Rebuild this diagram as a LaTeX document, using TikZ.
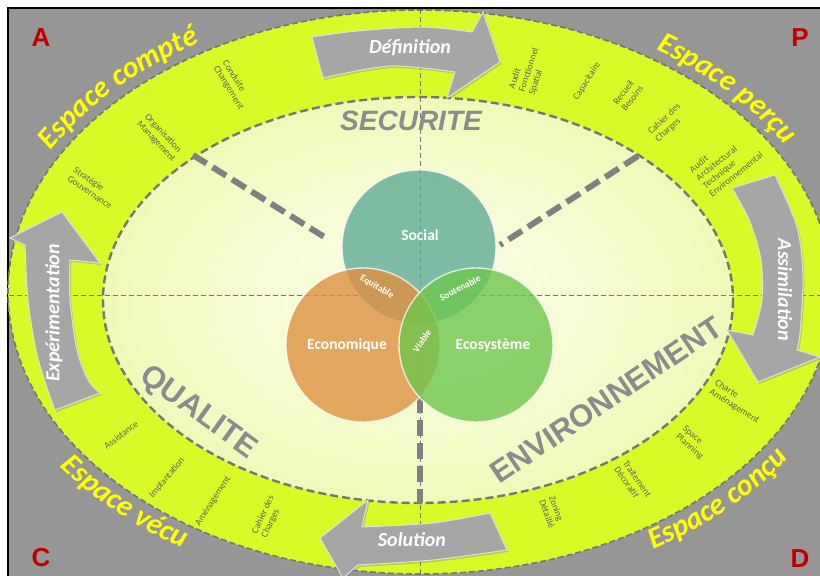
\documentclass[tikz,border=0pt]{standalone}
\usepackage{fontspec}
\setmainfont{Carlito}
\newfontfamily\arialf{Liberation Sans}
\usetikzlibrary{decorations.text,shadows}

\definecolor{ringgreen}{RGB}{217,250,38}
\definecolor{ringdash}{RGB}{118,118,118}
\definecolor{thickdash}{RGB}{128,128,128}
\definecolor{labelgray}{RGB}{96,100,80}
\definecolor{wordgray}{RGB}{140,140,140}
\definecolor{arrowgray}{RGB}{166,166,166}
\definecolor{cornerred}{RGB}{192,0,0}
\definecolor{espyellow}{RGB}{255,255,0}
\definecolor{socialc}{RGB}{96,172,150}
\definecolor{econc}{RGB}{222,145,65}
\definecolor{ecosc}{RGB}{110,198,78}
\definecolor{bgin}{RGB}{218,218,218}
\definecolor{bgout}{RGB}{150,150,150}
\definecolor{innerin}{RGB}{253,255,238}
\definecolor{innerout}{RGB}{240,249,186}

\newcommand{\espfont}{\fontsize{30}{30}\selectfont\bfseries\itshape}
\newcommand{\secfont}{\arialf\bfseries\itshape\fontsize{28}{28}\selectfont}
\newcommand{\bigfont}{\arialf\bfseries\fontsize{31}{31}\selectfont}

\tikzset{
  ringborder/.style={draw=ringdash, line width=1.6pt, dash pattern=on 6pt off 3pt},
  innerborder/.style={draw=ringdash, line width=2.4pt, dash pattern=on 8pt off 4pt},
  guide/.style={draw=ringdash, line width=0.9pt, dash pattern=on 5pt off 3pt},
  sector/.style={draw=thickdash, line width=6pt, dash pattern=on 16pt off 7pt},
  vcircle/.style={circle, minimum size=154pt, inner sep=0pt, fill opacity=.8, draw=white, draw opacity=.75, line width=1.4pt},
  circlab/.style={text=white, font=\bfseries\fontsize{15.5}{16}\selectfont},
  interlab/.style={text=white, font=\bfseries\fontsize{9.5}{10}\selectfont, inner sep=0pt},
  smalllab/.style={text=labelgray, font=\fontsize{9.5}{10.5}\selectfont, align=left, inner sep=0pt},
  arrowshape/.style={fill=arrowgray, draw=white!75!gray, line width=1pt, drop shadow={shadow xshift=1.5pt, shadow yshift=-2pt, opacity=.35}},
  arrowtext/.style={text=white, font=\bfseries\itshape\fontsize{20}{20}\selectfont},
  corner/.style={text=cornerred, font=\arialf\bfseries\fontsize{26}{26}\selectfont},
  bigword/.style={text=wordgray, inner sep=1pt},
}

\begin{document}
\begin{tikzpicture}[x=1pt,y=-1pt]
\useasboundingbox (0,0) rectangle (820,576);
\fill[white] (0,0) rectangle (820,576);
\shade[inner color=bgin, outer color=bgout] (8,8) rectangle (822,580);
\draw[black, line width=1.2pt] (8,580) -- (8,8) -- (822,8);

\coordinate (C) at (420,292);
\coordinate (IC) at (418,300);

% rings
\draw[ringborder, fill=ringgreen] (C) ellipse [x radius=412, y radius=282];
\shade[inner color=innerin, outer color=innerout] (IC) ellipse [x radius=315, y radius=203];
\draw[innerborder] (IC) ellipse [x radius=315, y radius=203];

% guide lines
\coordinate (hl) at (9,295);
\coordinate (hr) at (822,295);
\coordinate (vt) at (420,9);
\coordinate (vb) at (420,580);
\draw[guide] (hl) -- (hr);
\draw[guide] (vt) -- (vb);

% sector lines
\coordinate (s1a) at (193,155);
\coordinate (s1b) at (326,238);
\coordinate (s2a) at (638,156);
\coordinate (s2b) at (500,245);
\coordinate (s3a) at (420,397);
\coordinate (s3b) at (420,503);
\draw[sector] (s1a) -- (s1b);
\draw[sector] (s2a) -- (s2b);
\draw[sector] (s3a) -- (s3b);

% big words
\node[bigword, font=\secfont] (wsec) at (411,121) {SECURITE};
\node[bigword, font=\bigfont, rotate=-36] (wqual) at (198,413) {QUALITE};
\node[bigword, font=\bigfont, rotate=34] (wenv) at (606,400) {ENVIRONNEMENT};

% circles
\node[vcircle, fill=socialc] (social) at (419,247) {};
\node[vcircle, fill=econc] (econ) at (363,345) {};
\node[vcircle, fill=ecosc] (ecos) at (476,345) {};
\node[circlab] (lsocial) at (420,235) {Social};
\node[circlab] (lecon) at (347,345) {Economique};
\node[circlab] (lecos) at (493,345) {Ecosystème};
\node[interlab, rotate=-30] (lequi) at (377,287) {Equitable};
\node[interlab, rotate=27] (lsout) at (460,288) {Soutenable};
\node[interlab, rotate=55] (lviab) at (422,341) {Viable};

% arrows
\path[arrowshape] plot[smooth] coordinates {(312,37) (357,31) (423,27) (472,32)} -- (483,12) -- (500,62) -- (447,98) -- (455,72) -- plot[smooth] coordinates {(455,72) (390,66) (323,78)} -- cycle;
\path[arrowshape] plot[smooth] coordinates {(490,513) (433,523) (362,527)} -- (368,500) -- (320,538) -- (343,578) -- (358,565) -- plot[smooth] coordinates {(358,565) (433,560) (507,550)} -- cycle;
\path[arrowshape] (25,245) -- (10,238) -- (62,212) -- (100,263) -- (70,260) -- plot[smooth] coordinates {(70,260) (70,300) (77,350) (88,380) (100,393)} -- (55,410) -- plot[smooth] coordinates {(55,410) (46,385) (36,350) (28,300) (25,245)} -- cycle;
\path[arrowshape] (732,188) -- (775,175) -- plot[smooth] coordinates {(775,175) (797,227) (803,277) (800,333) (797,350)} -- (820,357) -- (758,382) -- (727,330) -- (753,335) -- plot[smooth] coordinates {(753,335) (762,300) (761,260) (750,222) (732,188)} -- cycle;
\node[arrowtext] (tdef) at (410,48) {Définition};
\node[arrowtext] (tsol) at (412,540) {Solution};
\node[arrowtext, rotate=90] (texp) at (54,313) {Expérimentation};
\node[arrowtext, rotate=-90] (tass) at (785,290) {Assimilation};

% small labels
\node[smalllab, rotate=-34] (l1) at (93,188) {Stratégie\\Gouvernance};
\node[smalllab, rotate=-47] (l2) at (160,138) {Organisation\\Management};
\node[smalllab, rotate=-58] (l3) at (233,85) {Conduite\\Changement};
\node[smalllab, rotate=72] (l4) at (529,70) {Audit\\Fonctionnel\\Spatial};
\node[smalllab, rotate=58] (l5) at (587,81) {Capacitaire};
\node[smalllab, rotate=53] (l6) at (628,95) {Recueil\\Besoins};
\node[smalllab, rotate=43] (l7) at (668,123) {Cahier des\\Charges};
\node[smalllab, rotate=39] (l8) at (726,162) {Audit\\Architectural\\Technique\\Environnemental};
\node[smalllab, rotate=-32] (l9) at (737,402) {Charte\\Aménagement};
\node[smalllab, rotate=-41] (l10) at (693,443) {Space\\Planning};
\node[smalllab, rotate=-55] (l11) at (633,482) {Traitement\\Décoratif};
\node[smalllab, rotate=-70] (l12) at (552,512) {Zoning\\Détaillé};
\node[smalllab, rotate=37] (l13) at (121,435) {Assistance};
\node[smalllab, rotate=50] (l14) at (167,478) {Implantation};
\node[smalllab, rotate=57] (l15) at (213,501) {Aménagement};
\node[smalllab, rotate=65] (l16) at (268,517) {Cahier des\\Charges};

% Espace texts
\path[decorate, decoration={text along path, text={|\espfont|Espace compté}, text color=espyellow}]
  ([shift={(C)}]-151:422 and 292) arc[start angle=-151, end angle=-70, x radius=422, y radius=292];
\path[decorate, decoration={text along path, text={|\espfont|Espace perçu}, text color=espyellow}]
  ([shift={(C)}]-56:422 and 292) arc[start angle=-56, end angle=25, x radius=422, y radius=292];
\path[decorate, decoration={text along path, text={|\espfont|Espace vécu}, text color=espyellow}]
  ([shift={(C)}]-215:440 and 304) arc[start angle=-215, end angle=-290, x radius=440, y radius=304];
\path[decorate, decoration={text along path, text={|\espfont|Espace conçu}, text color=espyellow}]
  ([shift={(C)}]-302:440 and 304) arc[start angle=-302, end angle=-380, x radius=440, y radius=304];

% corners
\node[corner] (cA) at (41,38) {A};
\node[corner] (cP) at (800,38) {P};
\node[corner] (cC) at (41,558) {C};
\node[corner] (cD) at (800,559) {D};
\end{tikzpicture}
\end{document}
